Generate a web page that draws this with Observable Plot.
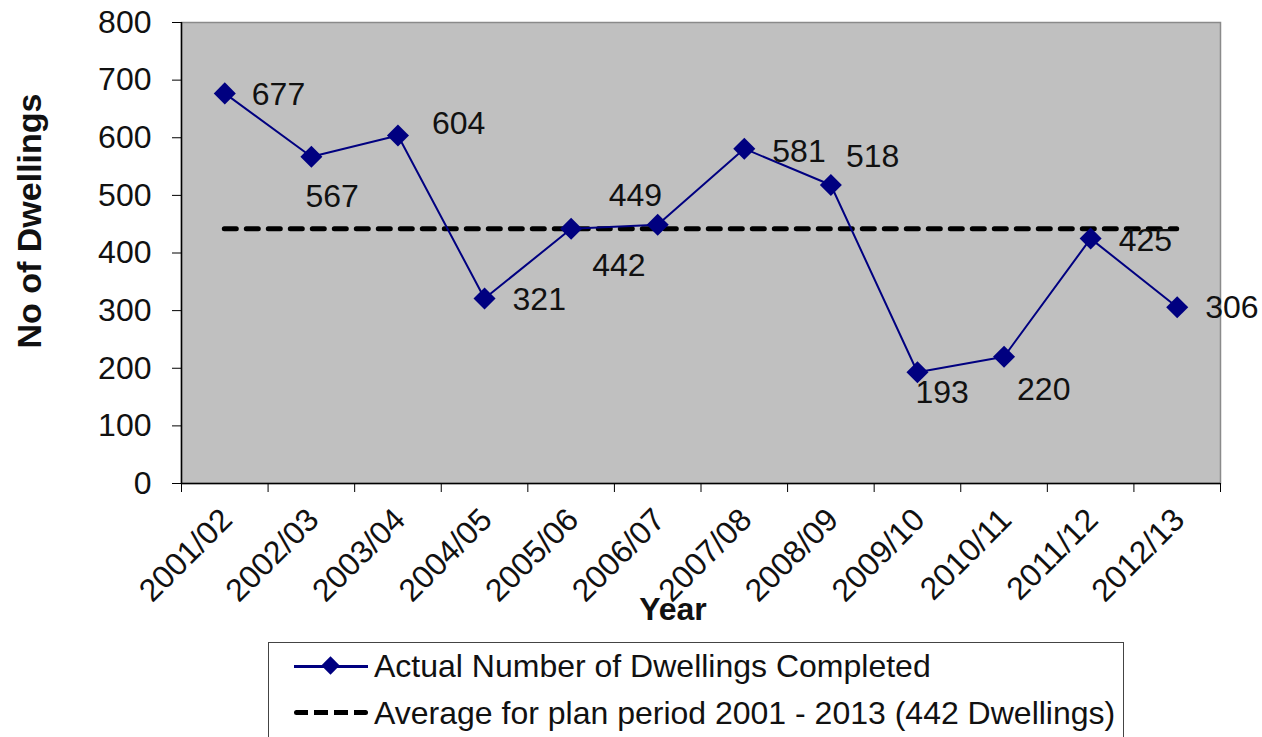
<!DOCTYPE html>
<html>
<head>
<meta charset="utf-8">
<script src="https://cdn.jsdelivr.net/npm/d3@7"></script>
<script src="https://cdn.jsdelivr.net/npm/@observablehq/plot@0.6"></script>
<style>
  body { margin: 0; background: #fff; font-family: "Liberation Sans", Arial, sans-serif; }
  #legend { position: absolute; left: 268px; top: 642px; width: 856px; height: 120px; border: 1.5px solid #444; box-sizing: border-box; background: #fff; }
  .row { position: absolute; left: 0; height: 40px; display: flex; align-items: center; font-size: 32px; color: #111; white-space: nowrap; }
  .sw { position: relative; width: 74px; height: 20px; margin-left: 25px; margin-right: 6px; }
  .sw .ln { position: absolute; left: 0; right: 0; top: 9px; height: 2.5px; background: #000080; }
  .sw .dm { position: absolute; left: 30px; top: 3px; width: 13px; height: 13px; background: #000080; transform: rotate(45deg); }
  .sw .dash { position: absolute; left: 0; right: 0; top: 7px; height: 5px; background: repeating-linear-gradient(90deg, #000 0 14px, transparent 14px 20px); border-radius: 3px; }
</style>
</head>
<body>
<div id="chart"></div>
<div id="legend"></div>
<script>
const categories = ["2001/02","2002/03","2003/04","2004/05","2005/06","2006/07","2007/08","2008/09","2009/10","2010/11","2011/12","2012/13"];
const completed = [677, 567, 604, 321, 442, 449, 581, 518, 193, 220, 425, 306];
const average = 442;
const yTicks = [0, 100, 200, 300, 400, 500, 600, 700, 800];
const seriesName = "Actual Number of Dwellings Completed";
const averageName = "Average for plan period 2001 - 2013 (442 Dwellings)";
const yTitle = "No of Dwellings";
const xTitle = "Year";
// label offsets (layout only)
const labelDx = [27, -6, 34, 28, 21, -49, 28, 15, -2, 13, 28, 28];
const labelDy = [1, 40, -12, 1, 37, -29, 3, -28, 20, 33, 2, 1];

const rows = categories.map((c, i) => ({i, category: c, value: completed[i]}));
const n = categories.length;

const diamond = {
  draw(ctx, size) {
    const h = Math.sqrt(size / 2);
    ctx.moveTo(0, -h); ctx.lineTo(h, 0); ctx.lineTo(0, h); ctx.lineTo(-h, 0); ctx.closePath();
  }
};

const fs = 32;
const labelMarks = rows.map((d, k) => Plot.text([d], {
  x: "i", y: "value", text: r => String(r.value),
  dx: labelDx[k], dy: labelDy[k], textAnchor: "start", fontSize: fs, fill: "#111"
}));

const chart = Plot.plot({
  width: 1262,
  height: 640,
  marginTop: 22,
  marginBottom: 157,
  marginLeft: 181,
  marginRight: 42,
  style: {fontFamily: "'Liberation Sans', Arial, sans-serif", fontSize: fs + "px", color: "#111", background: "#fff"},
  x: {domain: [-0.5, n - 0.5], axis: null},
  y: {domain: [0, 800], axis: null},
  marks: [
    Plot.frame({fill: "#c0c0c0", stroke: "#8a8a8a", strokeWidth: 1.5}),
    Plot.axisY({ticks: yTicks, tickSize: 9, tickPadding: 21, fontSize: fs, stroke: "#000", label: null, tickFormat: d => String(d)}),
    Plot.axisX({ticks: d3.range(-0.5, n, 1), tickSize: 9, tickFormat: () => "", label: null, stroke: "#000"}),
    Plot.ruleX([-0.5], {stroke: "#000", strokeWidth: 1.5}),
    Plot.ruleY([0], {stroke: "#000", strokeWidth: 1.5}),
    Plot.text(rows, {x: "i", text: "category", frameAnchor: "bottom", rotate: -45, textAnchor: "end", lineAnchor: "middle", dx: 2, dy: 31, fontSize: fs, fill: "#111"}),
    Plot.ruleY([average], {x1: () => 0, x2: () => n - 1, stroke: "#000", strokeWidth: 5, strokeDasharray: "12,10", strokeLinecap: "round"}),
    Plot.line(rows, {x: "i", y: "value", stroke: "#000080", strokeWidth: 2}),
    Plot.dot(rows, {x: "i", y: "value", symbol: diamond, r: 8.8, fill: "#000080", stroke: "none"}),
    ...labelMarks,
    Plot.text([yTitle], {frameAnchor: "left", rotate: -90, textAnchor: "middle", dx: -151, dy: -32, fontSize: 34, fontWeight: "bold", fill: "#111"}),
    Plot.text([xTitle], {frameAnchor: "bottom", dx: -28, dy: 136, fontSize: 32, fontWeight: "bold", fill: "#111"})
  ]
});
document.getElementById("chart").appendChild(chart);

const legend = document.getElementById("legend");
legend.innerHTML = `
  <div class="row" style="top:3px"><div class="sw"><div class="ln"></div><div class="dm"></div></div><span>${seriesName}</span></div>
  <div class="row" style="top:50px"><div class="sw"><div class="dash"></div></div><span>${averageName}</span></div>`;
</script>
</body>
</html>
